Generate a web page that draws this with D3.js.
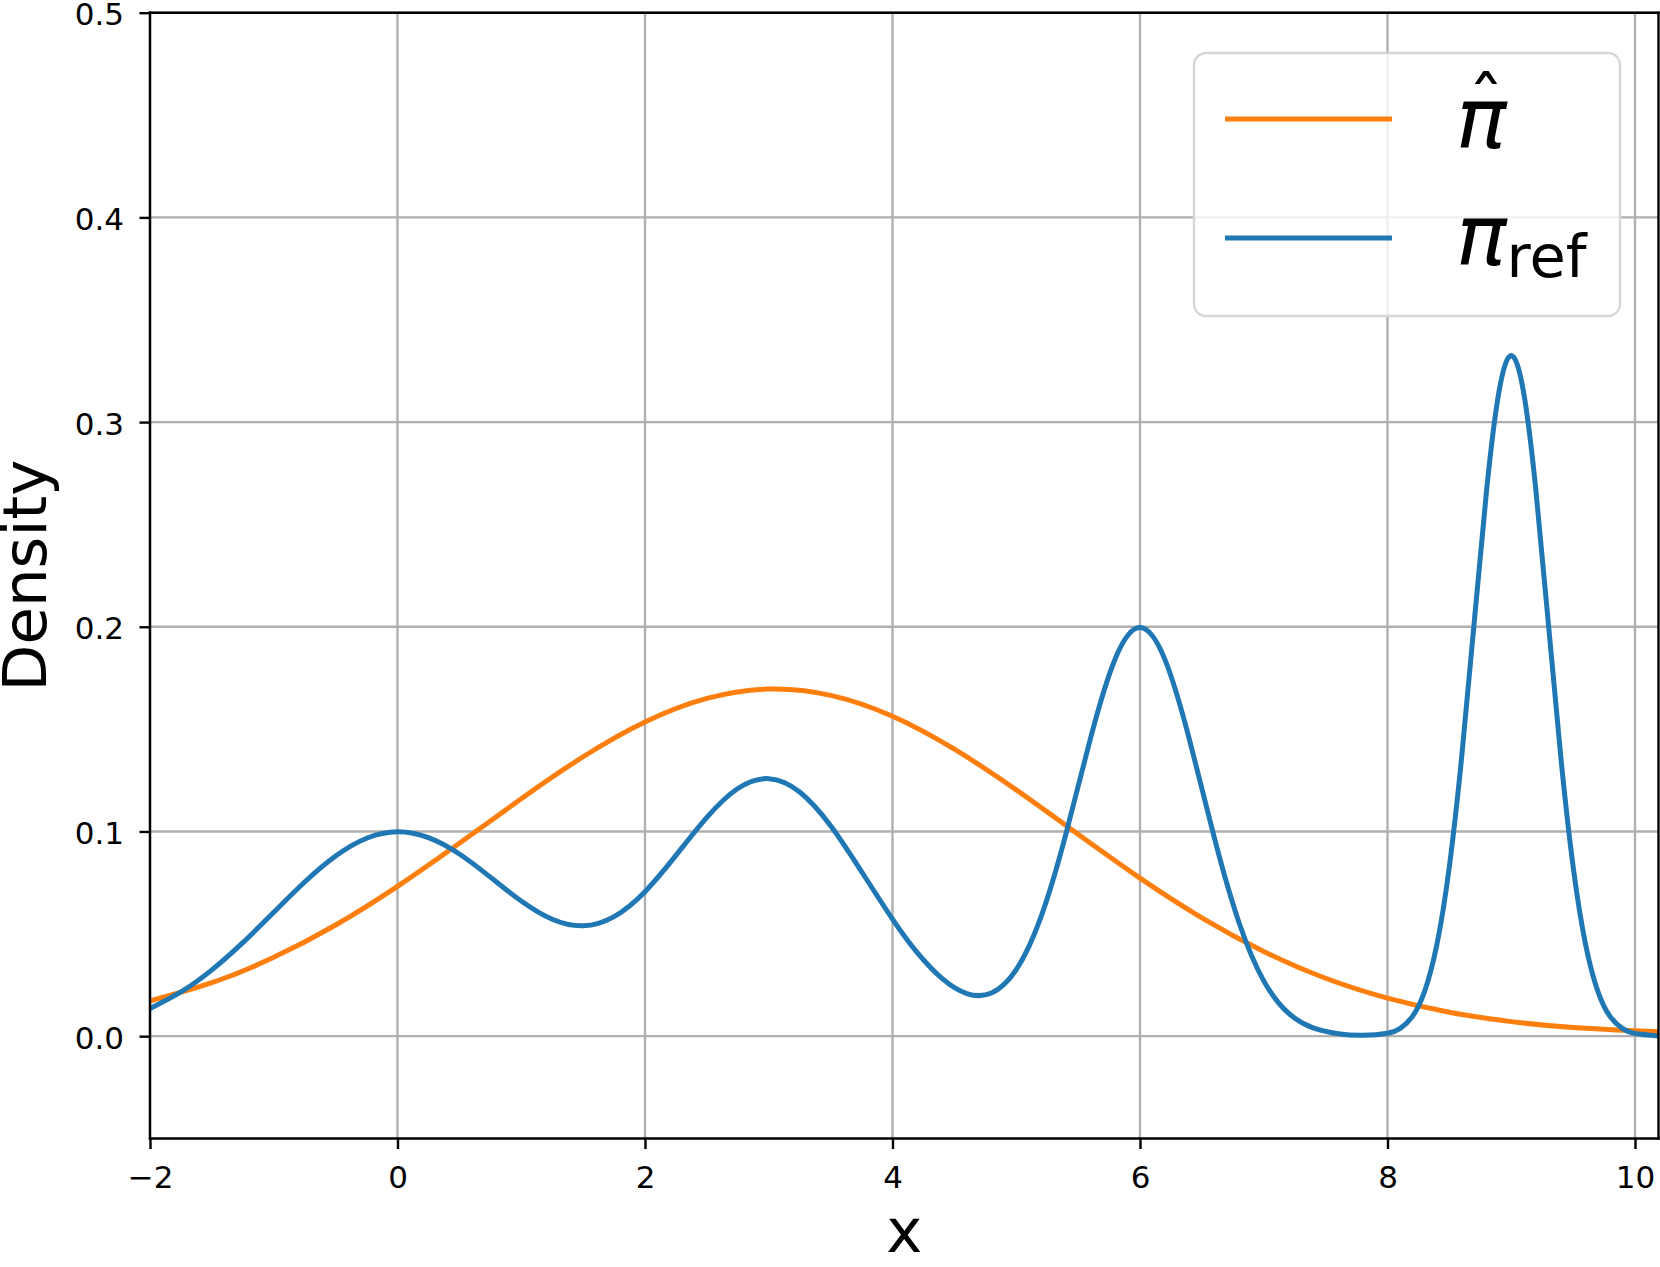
<!DOCTYPE html>
<html><head><meta charset="utf-8">
<script src="https://cdn.jsdelivr.net/npm/d3@7"></script>
<style>html,body{margin:0;padding:0;background:#fff;} svg{display:block;}</style>
</head><body>
<script>
// ---- data ----
const refX = [-2,-1.75,-1.5,-1.25,-1,-0.75,-0.5,-0.25,0,0.25,0.5,0.75,1,1.25,1.5,1.75,2,2.25,2.5,2.75,3,3.25,3.5,3.75,4,4.2,4.4,4.6,4.8,5,5.2,5.4,5.6,5.8,6,6.2,6.4,6.6,6.8,7,7.2,7.4,7.6,7.8,8,8.1,8.2,8.3,8.4,8.5,8.6,8.7,8.8,8.9,9,9.1,9.2,9.3,9.4,9.5,9.6,9.7,9.8,9.9,10,10.2];
const refY = [0.0135,0.0216,0.0324,0.0457,0.0605,0.0753,0.0880,0.0967,0.0999,0.0970,0.0890,0.0777,0.0660,0.0571,0.0539,0.0584,0.0706,0.0883,0.1069,0.1210,0.1258,0.1193,0.1028,0.0804,0.0572,0.0408,0.0282,0.0208,0.0211,0.0325,0.0583,0.0985,0.1455,0.1844,0.1996,0.1842,0.1448,0.0971,0.0555,0.0270,0.0112,0.0040,0.0012,0.0004,0.0014,0.0037,0.0095,0.0219,0.0450,0.0829,0.1367,0.2016,0.2662,0.3145,0.3325,0.3145,0.2662,0.2016,0.1367,0.0829,0.0450,0.0219,0.0095,0.0037,0.0013,0.0001];
const hatX = [-2,-1.5,-1,-0.5,0,0.5,1,1.5,2,2.5,3,3.5,4,4.5,5,5.5,6,6.5,7,7.5,8,8.5,9,9.5,10,10.2];
const hatY = [0.0172,0.0261,0.0385,0.0543,0.0732,0.0942,0.1160,0.1365,0.1535,0.1650,0.1696,0.1665,0.1563,0.1402,0.1203,0.0986,0.0772,0.0578,0.0414,0.0283,0.0186,0.0117,0.0071,0.0042,0.0026,0.0021];
const xTicks = [-2,0,2,4,6,8,10];
const yTicks = [0.0,0.1,0.2,0.3,0.4,0.5];
const xLabel = "x";
const yLabel = "Density";

const W = 1660, H = 1267;
const FONT = "DejaVu Sans";
const svg = d3.select("body").append("svg").attr("width", W).attr("height", H)
  .style("font-family", FONT);

const L = 150, R = 1658.5, T = 12.7, B = 1138.5;
const x = d3.scaleLinear().domain([-2, 10.19]).range([L, R]);
const y = d3.scaleLinear().domain([-0.05, 0.5]).range([B, T]);

svg.append("defs").append("clipPath").attr("id", "clip")
  .append("rect").attr("x", L).attr("y", T).attr("width", R - L).attr("height", B - T);

// grid
const grid = svg.append("g").attr("stroke", "#b0b0b0").attr("stroke-width", 2.4);
grid.selectAll("line.gx").data(xTicks).join("line")
  .attr("x1", d => x(d)).attr("x2", d => x(d)).attr("y1", T).attr("y2", B);
grid.selectAll("line.gy").data(yTicks).join("line")
  .attr("x1", L).attr("x2", R).attr("y1", d => y(d)).attr("y2", d => y(d));

// curves
const line = d3.line().x(d => x(d[0])).y(d => y(d[1])).curve(d3.curveNatural);
const plot = svg.append("g").attr("clip-path", "url(#clip)");
plot.append("path").datum(hatX.map((v, i) => [v, hatY[i]]))
  .attr("d", line).attr("fill", "none").attr("stroke", "#ff7f0e").attr("stroke-width", 5)
  .attr("stroke-linejoin", "round").attr("stroke-linecap", "square");
plot.append("path").datum(refX.map((v, i) => [v, refY[i]]))
  .attr("d", line).attr("fill", "none").attr("stroke", "#1f77b4").attr("stroke-width", 5)
  .attr("stroke-linejoin", "round").attr("stroke-linecap", "square");

// axes
const fmtX = d => (d < 0 ? "\u2212" + Math.abs(d) : String(d));
const xAxis = svg.append("g").attr("transform", `translate(0,${B})`)
  .call(d3.axisBottom(x).tickValues(xTicks).tickSize(10.5).tickSizeOuter(0).tickPadding(16.5).tickFormat(fmtX));
const yAxis = svg.append("g").attr("transform", `translate(${L},0)`)
  .call(d3.axisLeft(y).tickValues(yTicks).tickSize(10.5).tickSizeOuter(0).tickPadding(15.5).tickFormat(d3.format(".1f")));
[xAxis, yAxis].forEach(a => {
  a.select(".domain").remove();
  a.selectAll("line").attr("stroke", "#000").attr("stroke-width", 2.4);
  a.selectAll("text").attr("fill", "#000").style("font-size", "31px").style("font-family", FONT);
});
yAxis.selectAll("text").attr("dy", null).attr("y", 12);

// spines
const sp = svg.append("g").attr("stroke", "#000").attr("stroke-width", 2.4).attr("stroke-linecap", "square");
sp.append("line").attr("x1", L).attr("x2", R).attr("y1", B).attr("y2", B);
sp.append("line").attr("x1", L).attr("x2", R).attr("y1", T).attr("y2", T);
sp.append("line").attr("x1", L).attr("x2", L).attr("y1", T).attr("y2", B);
sp.append("line").attr("x1", R).attr("x2", R).attr("y1", T).attr("y2", B);

// axis labels
svg.append("text").attr("x", (L + R) / 2).attr("y", 1252).attr("text-anchor", "middle")
  .style("font-size", "61px").text(xLabel);
svg.append("text").attr("transform", `translate(46,${(T + B) / 2}) rotate(-90)`)
  .attr("text-anchor", "middle").style("font-size", "61px").text(yLabel);

// legend
const lg = svg.append("g");
lg.append("rect").attr("x", 1194).attr("y", 53).attr("width", 426).attr("height", 263)
  .attr("rx", 12).attr("ry", 12).attr("fill", "#fff").attr("fill-opacity", 0.8)
  .attr("stroke", "#d6d6d6").attr("stroke-width", 2.4);
lg.append("line").attr("x1", 1225).attr("x2", 1392).attr("y1", 119).attr("y2", 119)
  .attr("stroke", "#ff7f0e").attr("stroke-width", 5);
lg.append("line").attr("x1", 1225).attr("x2", 1392).attr("y1", 238).attr("y2", 238)
  .attr("stroke", "#1f77b4").attr("stroke-width", 5);
// label 1: pi hat
lg.append("text").attr("x", 1456).attr("y", 148).style("font-size", "84px").style("font-style", "italic").text("π");
lg.append("text").attr("x", 1486).attr("y", 128).attr("text-anchor", "middle").style("font-size", "72px").text("ˆ");
// label 2: pi_ref
const t2 = lg.append("text").attr("x", 1456).attr("y", 265).style("font-size", "84px");
t2.append("tspan").style("font-style", "italic").text("π");
t2.append("tspan").attr("dy", 12).style("font-size", "59px").text("ref");
</script>
</body></html>
